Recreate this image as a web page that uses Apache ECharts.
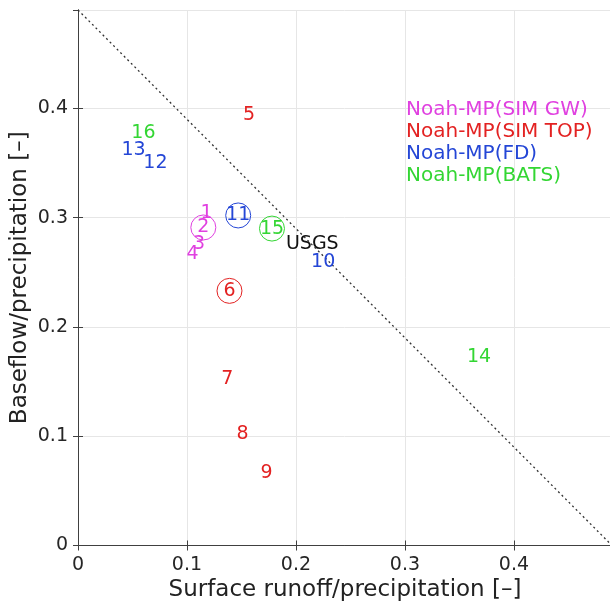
<!DOCTYPE html>
<html>
<head>
<meta charset="utf-8">
<script src="https://cdn.jsdelivr.net/npm/echarts@6/dist/echarts.min.js"></script>
<style>
  html, body { margin: 0; padding: 0; background: #fff; }
  #chart { width: 610px; height: 609px; }
</style>
</head>
<body>
<div id="chart"></div>
<script>
// Runoff partitioning of the Noah-MP runoff schemes (fractions of precipitation)
const groups = ['Noah-MP(SIM GW)', 'Noah-MP(SIM TOP)', 'Noah-MP(FD)', 'Noah-MP(BATS)'];
const groupColors = ['#e040e0', '#e32222', '#2446d6', '#33d633'];

const runIds   = [1, 2, 3, 4, 5, 6, 7, 8, 9, 10, 11, 12, 13, 14, 15, 16];
const runGroup = [0, 0, 0, 0, 1, 1, 1, 1, 1, 2, 2, 2, 2, 3, 3, 3];
const surfaceRunoff = [0.118, 0.115, 0.111, 0.105, 0.157, 0.139, 0.137, 0.151, 0.173,
                       0.225, 0.147, 0.071, 0.051, 0.368, 0.178, 0.060];
const baseflow      = [0.304, 0.291, 0.276, 0.267, 0.394, 0.233, 0.152, 0.102, 0.066,
                       0.259, 0.302, 0.350, 0.362, 0.172, 0.290, 0.377];
// runs highlighted with a ring
const circledRuns = [2, 6, 11, 15];

// observed partitioning
const obsLabel = 'USGS';
const obsRunoff = 0.215;
const obsBaseflow = 0.276;

// total runoff / precipitation = constant reference line
const refX = [0, 0.49];
const refY = [0.49, 0];

const axisMax = 0.49;
const tickStep = 0.1;

const FONT = 'DejaVu Sans';
const axisColor = '#404040';

function baseAxis(extra) {
  return Object.assign({
    type: 'value',
    min: 0,
    max: axisMax,
    interval: tickStep,
    axisLine: { show: true, lineStyle: { color: axisColor, width: 1 } },
    axisTick: { show: true, inside: true, length: 5, lineStyle: { color: axisColor } },
    splitLine: { show: false },
    axisLabel: { show: false }
  }, extra);
}

const series = groups.map((g, gi) => ({
  name: g,
  type: 'scatter',
  xAxisIndex: 0,
  yAxisIndex: 0,
  z: 5,
  data: runIds
    .map((id, i) => ({ id, i }))
    .filter(d => runGroup[d.i] === gi)
    .map(d => ({
      name: String(d.id),
      value: [surfaceRunoff[d.i], baseflow[d.i]],
      symbolSize: circledRuns.includes(d.id) ? 25 : 0
    })),
  symbol: 'circle',
  itemStyle: { color: 'rgba(0,0,0,0)', borderColor: groupColors[gi], borderWidth: 1, opacity: 1 },
  label: {
    show: true,
    position: 'inside',
    formatter: p => p.name,
    color: groupColors[gi],
    fontFamily: FONT,
    fontSize: 19
  },
  emphasis: { disabled: true }
}));

series.unshift({
  name: 'reference',
  type: 'line',
  data: refX.map((x, i) => [x, refY[i]]),
  symbol: 'none',
  lineStyle: { color: '#333', width: 1.3, type: [2, 3] },
  z: 2,
  silent: true
});

series.push({
  name: obsLabel,
  type: 'scatter',
  data: [{ name: obsLabel, value: [obsRunoff, obsBaseflow] }],
  symbolSize: 0,
  itemStyle: { opacity: 1 },
  label: {
    show: true, position: 'inside', formatter: p => p.name,
    color: '#111', fontFamily: FONT, fontSize: 19
  },
  z: 6,
  silent: true
});

const option = {
  animation: false,
  backgroundColor: '#fff',
  grid: { left: 78, top: 10, right: -2, bottom: 63.5, containLabel: false, outerBoundsMode: 'none' },
  legend: {
    orient: 'vertical',
    left: 401,
    top: 99,
    padding: 0,
    itemGap: 0,
    itemWidth: 0,
    itemHeight: 14,
    icon: 'none',
    selectedMode: false,
    data: groups.map((g, i) => ({ name: g, textStyle: { color: groupColors[i] } })),
    textStyle: { fontFamily: FONT, fontSize: 20, lineHeight: 22 }
  },
  xAxis: [
    baseAxis({
      position: 'bottom',
      name: 'Surface runoff/precipitation [–]',
      nameLocation: 'middle',
      nameGap: 33,
      nameMoveOverlap: false,
      nameTextStyle: { fontFamily: FONT, fontSize: 23, color: '#222' },
      splitLine: { show: true, lineStyle: { color: '#e6e6e6', width: 1 } },
      axisLabel: { show: true, margin: 10, fontFamily: FONT, fontSize: 19, color: '#262626', showMaxLabel: false }
    }),
    baseAxis({ position: 'top' })
  ],
  yAxis: [
    baseAxis({
      position: 'left',
      name: 'Baseflow/precipitation [–]',
      nameLocation: 'middle',
      nameGap: 46,
      nameMoveOverlap: false,
      nameTextStyle: { fontFamily: FONT, fontSize: 23, color: '#222' },
      splitLine: { show: true, lineStyle: { color: '#e6e6e6', width: 1 } },
      axisLabel: { show: true, margin: 10, fontFamily: FONT, fontSize: 19, color: '#262626', showMaxLabel: false }
    }),
    baseAxis({ position: 'right' })
  ],
  series: series
};

const chart = echarts.init(document.getElementById('chart'), null, { renderer: 'canvas' });
chart.setOption(option);
</script>
</body>
</html>
